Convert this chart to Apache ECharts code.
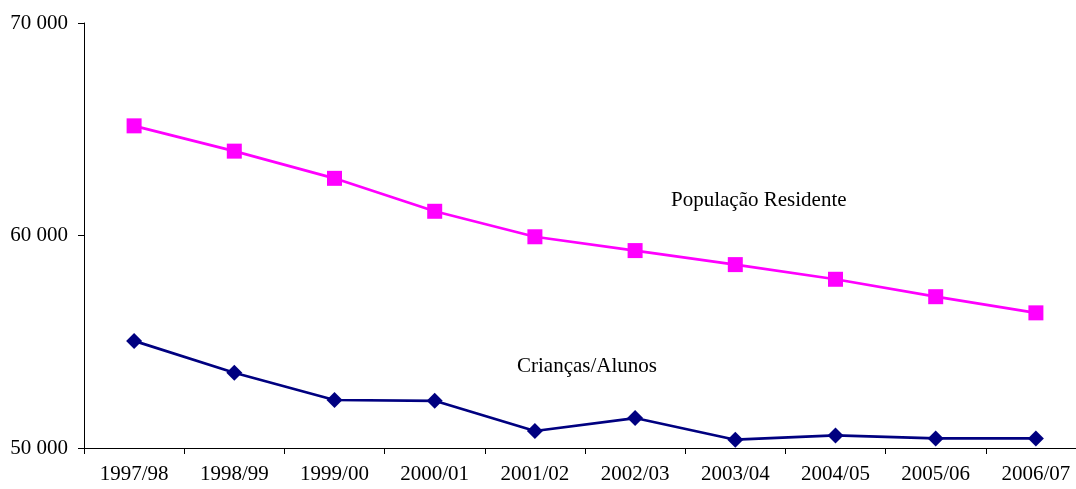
<!DOCTYPE html>
<html>
<head>
<meta charset="utf-8">
<script src="https://cdn.jsdelivr.net/npm/echarts@6/dist/echarts.min.js"></script>
<style>
  html, body { margin: 0; padding: 0; background: #fff; overflow: hidden; }
  /* plot area runs past the right edge of the picture, like the source */
  #chart { width: 1090px; height: 489px; }
</style>
</head>
<body>
<div id="chart"></div>
<script>
// school years
const years = ['1997/98', '1998/99', '1999/00', '2000/01', '2001/02', '2002/03', '2003/04', '2004/05', '2005/06', '2006/07']
// resident population
const populacao = [65160, 63970, 62690, 61140, 59940, 59290, 58630, 57940, 57120, 56360]
// children / pupils
const alunos = [55040, 53540, 52260, 52220, 50800, 51410, 50390, 50590, 50450, 50450]
const yMin = 50000
const yMax = 70000
const yStep = 10000

const fontFamily = '"Liberation Serif", "Times New Roman", serif'

const chart = echarts.init(document.getElementById('chart'))
chart.setOption({
  backgroundColor: '#ffffff',
  animation: false,
  grid: { left: 84, right: 4, top: 23, bottom: 41 },
  xAxis: {
    type: 'category',
    data: years,
    boundaryGap: true,
    axisLine: { lineStyle: { color: '#000', width: 1 } },
    axisTick: { show: true, length: 6, inside: false, lineStyle: { color: '#000' } },
    axisLabel: { color: '#000', fontFamily, fontSize: 21, margin: 16, interval: 0 },
    splitLine: { show: false },
  },
  yAxis: {
    type: 'value',
    min: yMin,
    max: yMax,
    interval: yStep,
    axisLine: { show: true, lineStyle: { color: '#000', width: 1 } },
    axisTick: { show: true, length: 6, lineStyle: { color: '#000' } },
    axisLabel: {
      color: '#000', fontFamily, fontSize: 21, margin: 16,
      formatter: v => String(v).replace(/\B(?=(\d{3})+(?!\d))/g, ' '),
    },
    splitLine: { show: false },
  },
  series: [
    {
      name: 'População Residente',
      type: 'line',
      data: populacao,
      symbol: 'rect',
      symbolSize: 15,
      lineStyle: { color: '#ff00ff', width: 2.7 },
      itemStyle: { color: '#ff00ff' },
    },
    {
      name: 'Crianças/Alunos',
      type: 'line',
      data: alunos,
      symbol: 'diamond',
      symbolSize: 16,
      lineStyle: { color: '#000080', width: 2.7 },
      itemStyle: { color: '#000080' },
    },
  ],
  graphic: [
    {
      type: 'text', left: 671, top: 190,
      style: { text: 'População Residente', fill: '#000', font: '21px ' + fontFamily },
    },
    {
      type: 'text', left: 517, top: 356,
      style: { text: 'Crianças/Alunos', fill: '#000', font: '21px ' + fontFamily },
    },
  ],
})
</script>
</body>
</html>
